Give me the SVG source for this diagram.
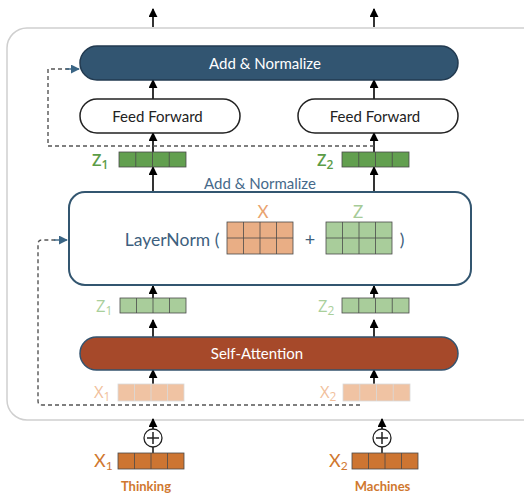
<svg xmlns="http://www.w3.org/2000/svg" width="524" height="493" viewBox="0 0 524 493">
  <style>
    text { font-family: Lato, "Open Sans", "Liberation Sans", sans-serif; }
    .lbl { font-size: 15px; text-anchor: middle; }
    .cell { stroke: #4a4a4a; stroke-width: 0.8; }
    .arrow { stroke: #000; stroke-width: 1.6; fill: none; marker-end: url(#ah); }
    .dash { stroke: #555; stroke-width: 1.4; fill: none; stroke-dasharray: 4 3; }
    .sub { font-size: 16.5px; font-family: "Open Sans", Lato, sans-serif; }
  </style>
  <defs>
    <marker id="ah" viewBox="0 0 10 10" refX="9" refY="5" markerWidth="9" markerHeight="9" markerUnits="userSpaceOnUse" orient="auto">
      <path d="M0,0 L10,5 L0,10 z" fill="#000"/>
    </marker>
    <marker id="ahb" viewBox="0 0 10 10" refX="9" refY="5" markerWidth="9" markerHeight="9" markerUnits="userSpaceOnUse" orient="auto">
      <path d="M0,0 L10,5 L0,10 z" fill="#3a6585"/>
    </marker>
  </defs>

  <rect width="524" height="493" fill="#fff"/>

  <!-- encoder frame -->
  <rect x="7" y="28" width="540" height="392" rx="20" fill="none" stroke="#cfcfcf" stroke-width="1.5"/>

  <g id="connectors">
    <!-- outputs -->
    <line class="arrow" x1="153" y1="27" x2="153" y2="9"/>
    <line class="arrow" x1="374" y1="27" x2="374" y2="9"/>
    <!-- feed forward to add & normalize -->
    <line class="arrow" x1="153" y1="99" x2="153" y2="80"/>
    <line class="arrow" x1="374" y1="99" x2="374" y2="80"/>
    <!-- z to feed forward -->
    <line class="arrow" x1="153" y1="152" x2="153" y2="133"/>
    <line class="arrow" x1="374" y1="152" x2="374" y2="133"/>
    <!-- layernorm to z -->
    <line class="arrow" x1="153" y1="192" x2="153" y2="167"/>
    <line class="arrow" x1="374" y1="192" x2="374" y2="167"/>
    <!-- z to layernorm -->
    <line class="arrow" x1="153" y1="306" x2="153" y2="286"/>
    <line class="arrow" x1="374" y1="306" x2="374" y2="286"/>
    <!-- self-attention to z -->
    <line class="arrow" x1="153" y1="337" x2="153" y2="320"/>
    <line class="arrow" x1="374" y1="337" x2="374" y2="320"/>
    <!-- x to self-attention -->
    <line class="arrow" x1="153" y1="392" x2="153" y2="370"/>
    <line class="arrow" x1="374" y1="392" x2="374" y2="370"/>
    <!-- inputs into encoder -->
    <line class="arrow" x1="153" y1="429" x2="153" y2="419"/>
    <line class="arrow" x1="382" y1="429" x2="382" y2="419"/>
    <line x1="153" y1="447" x2="153" y2="453" stroke="#000" stroke-width="1.4"/>
    <line x1="382" y1="447" x2="382" y2="453" stroke="#000" stroke-width="1.4"/>
    <!-- residual paths -->
    <path class="dash" d="M374,146 H48 V69 H70"/>
    <line x1="66" y1="69" x2="79" y2="69" stroke="#3a6585" stroke-width="1.4" marker-end="url(#ahb)"/>
    <path class="dash" d="M360,405 H42 Q38,405 38,401 V244 Q38,240 42,240 H56"/>
    <line x1="54" y1="240" x2="67" y2="240" stroke="#3a6585" stroke-width="1.4" marker-end="url(#ahb)"/>
  </g>

  <g id="add-normalize-top">
    <rect x="80" y="46" width="378" height="34" rx="17" fill="#325571" stroke="#223a50" stroke-width="1.5"/>
    <text x="265" y="68.5" class="lbl" fill="#fff">Add &amp; Normalize</text>
  </g>

  <g id="feed-forward-1">
    <rect x="80" y="99" width="160" height="34" rx="17" fill="#fff" stroke="#222" stroke-width="1.5"/>
    <text x="157.5" y="121.5" class="lbl" fill="#222">Feed Forward</text>
  </g>
  <g id="feed-forward-2">
    <rect x="298" y="99" width="160" height="34" rx="17" fill="#fff" stroke="#222" stroke-width="1.5"/>
    <text x="375" y="121.5" class="lbl" fill="#222">Feed Forward</text>
  </g>

  <g id="z1-out">
    <text x="92" y="166" class="sub" font-weight="600" fill="#5b9c47">Z<tspan font-size="12" dy="3">1</tspan></text>
    <rect class="cell" x="119" y="152" width="67" height="15" fill="#629f4f"/>
    <path class="cell" d="M135.75,152 V167 M152.5,152 V167 M169.25,152 V167"/>
  </g>
  <g id="z2-out">
    <text x="317" y="166" class="sub" font-weight="600" fill="#5b9c47">Z<tspan font-size="12" dy="3">2</tspan></text>
    <rect class="cell" x="342" y="152" width="67" height="15" fill="#629f4f"/>
    <path class="cell" d="M358.75,152 V167 M375.5,152 V167 M392.25,152 V167"/>
  </g>

  <g id="layernorm">
    <text x="260" y="189" class="lbl" fill="#46698a">Add &amp; Normalize</text>
    <rect x="69" y="192" width="402" height="93" rx="16" fill="#fff" stroke="#335670" stroke-width="2"/>
    <text x="172" y="245.5" font-size="17.5" text-anchor="middle" fill="#3e5f7e">LayerNorm (</text>
    <text x="263" y="218" font-size="17" text-anchor="middle" fill="#e9a36f">X</text>
    <rect class="cell" x="227" y="222" width="66" height="32" fill="#e9ae85"/>
    <path class="cell" d="M227,238 H293 M243.5,222 V254 M260,222 V254 M276.5,222 V254"/>
    <text x="310" y="245.5" font-size="18" text-anchor="middle" fill="#3e5f7e">+</text>
    <text x="358" y="218" font-size="17" text-anchor="middle" fill="#a6cb98">Z</text>
    <rect class="cell" x="326" y="222" width="66" height="32" fill="#a9cd9b"/>
    <path class="cell" d="M326,238 H392 M342.5,222 V254 M359,222 V254 M375.5,222 V254"/>
    <text x="402" y="245.5" font-size="17.5" text-anchor="middle" fill="#3e5f7e">)</text>
  </g>

  <g id="z1-in">
    <text x="96" y="312" class="sub" fill="#a9cf9b">Z<tspan font-size="12" dy="3">1</tspan></text>
    <rect class="cell" x="120" y="298" width="66" height="15" fill="#a9cd9b"/>
    <path class="cell" d="M136.5,298 V313 M153,298 V313 M169.5,298 V313"/>
  </g>
  <g id="z2-in">
    <text x="318" y="312" class="sub" fill="#a9cf9b">Z<tspan font-size="12" dy="3">2</tspan></text>
    <rect class="cell" x="342" y="298" width="67" height="15" fill="#a9cd9b"/>
    <path class="cell" d="M358.75,298 V313 M375.5,298 V313 M392.25,298 V313"/>
  </g>

  <g id="self-attention">
    <rect x="80" y="337" width="378" height="33" rx="16.5" fill="#a6492a" stroke="#34536e" stroke-width="1.5"/>
    <text x="257" y="359" class="lbl" fill="#fff">Self-Attention</text>
  </g>

  <g id="x1-in">
    <text x="94" y="398" class="sub" fill="#f1bf9c">X<tspan font-size="12" dy="3">1</tspan></text>
    <rect x="118" y="384" width="66" height="17" fill="#f0c3a3" stroke="#d9d9d9" stroke-width="0.8"/>
    <path d="M134.5,384 V401 M151,384 V401 M167.5,384 V401" stroke="#d9d9d9" stroke-width="0.8"/>
  </g>
  <g id="x2-in">
    <text x="320" y="398" class="sub" fill="#f1bf9c">X<tspan font-size="12" dy="3">2</tspan></text>
    <rect x="343" y="384" width="67" height="17" fill="#f0c3a3" stroke="#d9d9d9" stroke-width="0.8"/>
    <path d="M359.75,384 V401 M376.5,384 V401 M393.25,384 V401" stroke="#d9d9d9" stroke-width="0.8"/>
  </g>

  <g id="pos-enc-1">
    <circle cx="153" cy="438" r="9" fill="#fff" stroke="#222" stroke-width="1.3"/>
    <path d="M147,438 H159 M153,432 V444" stroke="#222" stroke-width="1.5"/>
  </g>
  <g id="pos-enc-2">
    <circle cx="382" cy="438" r="9" fill="#fff" stroke="#222" stroke-width="1.3"/>
    <path d="M376,438 H388 M382,432 V444" stroke="#222" stroke-width="1.5"/>
  </g>

  <g id="x1-embed">
    <text x="94" y="467" font-size="18" fill="#d0782f" font-family="Open Sans, sans-serif">X<tspan font-size="12" dy="3">1</tspan></text>
    <rect class="cell" x="118" y="453" width="66" height="16" fill="#cd7532"/>
    <path class="cell" d="M134.5,453 V469 M151,453 V469 M167.5,453 V469"/>
    <text x="146" y="491" font-size="13" font-weight="bold" text-anchor="middle" fill="#d0782f">Thinking</text>
  </g>
  <g id="x2-embed">
    <text x="329" y="467" font-size="18" fill="#d0782f" font-family="Open Sans, sans-serif">X<tspan font-size="12" dy="3">2</tspan></text>
    <rect class="cell" x="352" y="453" width="66" height="16" fill="#cd7532"/>
    <path class="cell" d="M368.5,453 V469 M385,453 V469 M401.5,453 V469"/>
    <text x="382.5" y="491" font-size="13" font-weight="bold" text-anchor="middle" fill="#d0782f">Machines</text>
  </g>
</svg>
